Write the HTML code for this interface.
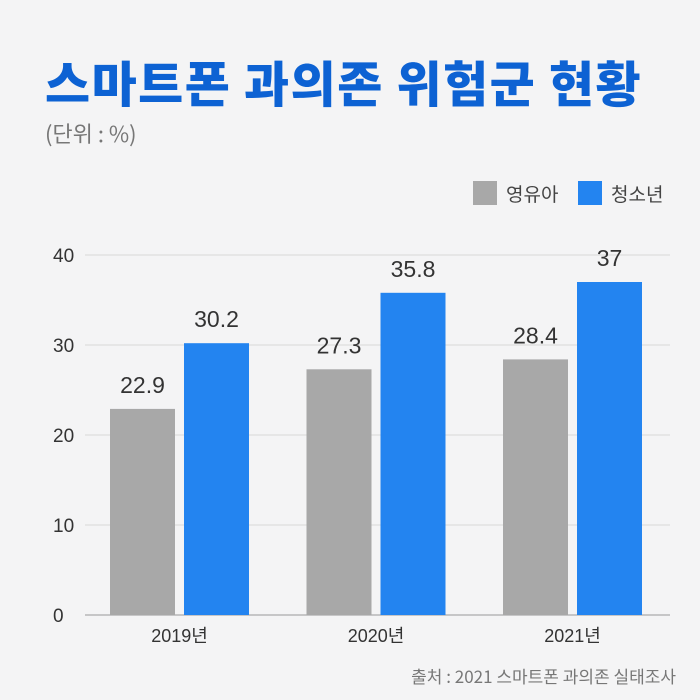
<!DOCTYPE html>
<html><head><meta charset="utf-8"><style>
body{margin:0;width:700px;height:700px;background:#f4f4f5;overflow:hidden;font-family:"Liberation Sans","Noto Sans CJK KR",sans-serif;}
#title{position:absolute;left:45px;top:46px;font-size:49px;font-weight:900;color:#0d62d3;letter-spacing:1.5px;white-space:nowrap;font-family:"Noto Sans CJK KR",sans-serif;}
#unit{position:absolute;left:45px;top:117px;font-size:22px;color:#777;font-family:"Noto Sans CJK KR",sans-serif;}
#src{position:absolute;right:24px;top:663px;font-size:17px;color:#777;font-family:"Noto Sans CJK KR",sans-serif;}
</style></head><body>
<div id="title">스마트폰 과의존 위험군 현황</div>
<div id="unit">(단위 : %)</div>
<div id="src">출처 : 2021 스마트폰 과의존 실태조사</div>
<svg id="chart" width="700" height="700" style="position:absolute;left:0;top:0"></svg>
<script>
const categories=["2019년","2020년","2021년"];
const adultValues=[22.9,27.3,28.4];
const youthValues=[30.2,35.8,37];
const adultLabels=["22.9","27.3","28.4"];
const youthLabels=["30.2","35.8","37"];
const yTicks=[0,10,20,30,40];
const seriesNames=["영유아","청소년"];
const NS="http://www.w3.org/2000/svg";
const svg=document.getElementById('chart');
const y=v=>615-v*9;
const gx=i=>110+i*196.5;
function mk(t,a,txt){const e=document.createElementNS(NS,t);for(const k in a)e.setAttribute(k,a[k]);if(txt!==undefined)e.textContent=txt;svg.appendChild(e);return e;}
const F='"Liberation Sans","Noto Sans CJK KR",sans-serif';
yTicks.forEach(t=>{
 const l=mk('line',{x1:85,x2:670,y1:y(t),y2:y(t),stroke:t===0?'#999':'#d8d8d8','stroke-width':1});
 
 
 const tx=mk('text',{x:53,y:y(t)+7,'font-size':19,fill:'#333','font-family':F},String(t));
 
 
});
categories.forEach((c,i)=>{
 const x=gx(i);
 const a=mk('rect',{x:x,y:y(adultValues[i]),width:65,height:615-y(adultValues[i]),fill:'#a8a8a8'});
 
 
 const b=mk('rect',{x:x+74,y:y(youthValues[i]),width:65,height:615-y(youthValues[i]),fill:'#2384f0'});
 
 
 const la=mk('text',{x:x+32.5,y:y(adultValues[i])-16,'font-size':23,fill:'#333','text-anchor':'middle','font-family':F},adultLabels[i]);
 
 
 const lb=mk('text',{x:x+106.5,y:y(youthValues[i])-16,'font-size':23,fill:'#333','text-anchor':'middle','font-family':F},youthLabels[i]);
 
 
 const cl=mk('text',{x:x+69.5,y:642,'font-size':18,fill:'#333','text-anchor':'middle','font-family':F},c);
 
 
});
const lg=[[473,'#a8a8a8'],[578,'#2384f0']];
lg.forEach((p,i)=>{
 const r=mk('rect',{x:p[0],y:181,width:24,height:24,fill:p[1]});
 
 
 const t=mk('text',{x:p[0]+33,y:201,'font-size':19,fill:'#444','font-family':F},seriesNames[i]);
 
 
});
</script>
</body></html>
